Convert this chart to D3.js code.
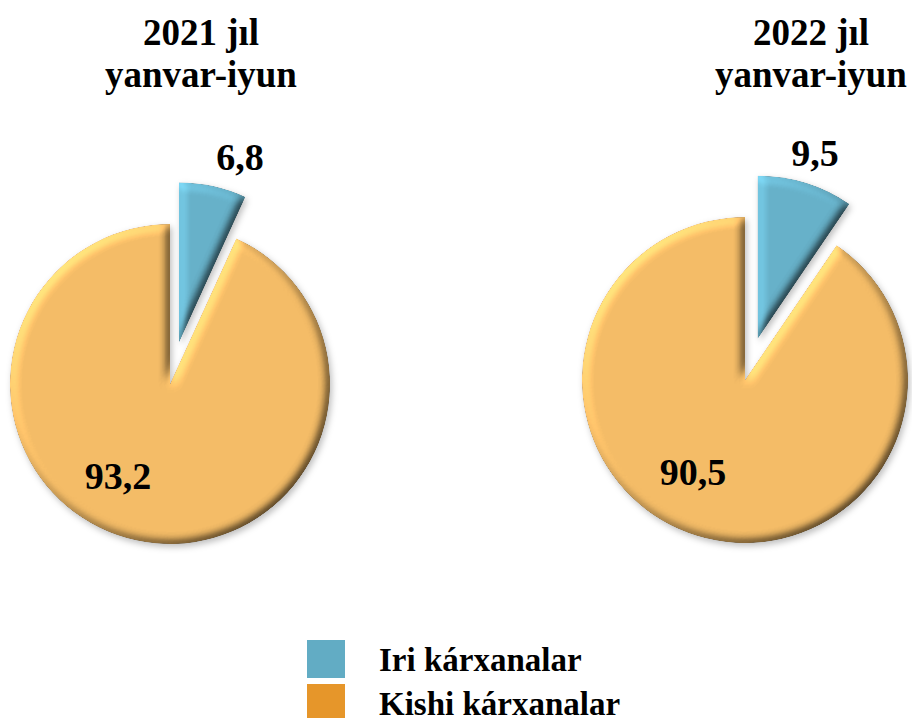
<!DOCTYPE html>
<html>

<head>
  <meta charset="utf-8">
  <title>Iri va kishi kárxanalar</title>
  <script src="https://d3js.org/d3.v7.min.js"></script>
  <style>
    body {
      margin: 0;
      background: #ffffff;
      font-family: "Liberation Serif", "Times New Roman", serif;
    }

    .title {
      font-size: 37px;
      font-weight: bold;
      text-anchor: middle;
      fill: #000;
    }

    .value-label {
      font-size: 38px;
      font-weight: bold;
      text-anchor: middle;
      fill: #000;
    }

    .legend-label {
      font-size: 33px;
      font-weight: bold;
      fill: #000;
    }
  </style>
</head>

<body>
  <svg id="chart"></svg>

  <script>
    // Data (percent shares)
    const periods = ["2021 jıl", "2022 jıl"];
    const subtitle = "yanvar-iyun";
    const categories = ["Iri kárxanalar", "Kishi kárxanalar"];
    const iriValues = [6.8, 9.5];
    const kishiValues = [93.2, 90.5];

    // Colours
    const legendColors = ["#62acc4", "#e6962a"];
    const sliceColors = ["#66b0c8", "#f3bb66"];

    const width = 912;
    const height = 718;

    // Layout of each pie (centre and radius)
    const pieLayout = [
      { cx: 170, cy: 384, r: 160, titleX: 201 },
      { cx: 745, cy: 380, r: 163, titleX: 811 },
    ];
    const explode = 0.265; // fraction of radius the small slice is pulled out
    const labelOffsets = [
      { dx: 70, dy: -227 }, // outside, above the small slice
      { dx: -52, dy: 92 },  // inside the large slice
    ];

    const svg = d3
      .select("#chart")
      .attr("width", width)
      .attr("height", height);

    // Bevel + shadow filter to mimic the 3-D look
    const defs = svg.append("defs");
    const filter = defs
      .append("filter")
      .attr("id", "bevel")
      .attr("x", "-20%")
      .attr("y", "-20%")
      .attr("width", "140%")
      .attr("height", "140%")
      .attr("color-interpolation-filters", "sRGB");
    filter
      .append("feGaussianBlur")
      .attr("in", "SourceAlpha")
      .attr("stdDeviation", 5)
      .attr("result", "blur");
    const light = filter
      .append("feDiffuseLighting")
      .attr("in", "blur")
      .attr("surfaceScale", 4)
      .attr("diffuseConstant", 0.98)
      .attr("lighting-color", "#ffffff")
      .attr("result", "light");
    light.append("feDistantLight").attr("azimuth", 225).attr("elevation", 55);
    filter
      .append("feComposite")
      .attr("in", "SourceGraphic")
      .attr("in2", "light")
      .attr("operator", "arithmetic")
      .attr("k1", 1.25)
      .attr("k2", 0)
      .attr("k3", 0)
      .attr("k4", 0)
      .attr("result", "lit");
    filter
      .append("feComposite")
      .attr("in", "lit")
      .attr("in2", "SourceAlpha")
      .attr("operator", "in")
      .attr("result", "litIn");
    filter
      .append("feGaussianBlur")
      .attr("in", "SourceAlpha")
      .attr("stdDeviation", 3)
      .attr("result", "sb");
    filter
      .append("feOffset")
      .attr("in", "sb")
      .attr("dx", 2)
      .attr("dy", 3)
      .attr("result", "so");
    filter
      .append("feFlood")
      .attr("flood-color", "#000")
      .attr("flood-opacity", 0.25)
      .attr("result", "fl");
    filter
      .append("feComposite")
      .attr("in", "fl")
      .attr("in2", "so")
      .attr("operator", "in")
      .attr("result", "shadow");
    const merge = filter.append("feMerge");
    merge.append("feMergeNode").attr("in", "shadow");
    merge.append("feMergeNode").attr("in", "litIn");

    const pie = d3
      .pie()
      .sort(null)
      .value((d) => d.value);

    periods.forEach((period, i) => {
      const layout = pieLayout[i];
      const data = [
        { category: categories[0], value: iriValues[i] },
        { category: categories[1], value: kishiValues[i] },
      ];
      const arcs = pie(data);
      const arc = d3.arc().innerRadius(0).outerRadius(layout.r);

      // Titles
      svg
        .append("text")
        .attr("class", "title")
        .attr("x", layout.titleX)
        .attr("y", 45)
        .text(period);
      svg
        .append("text")
        .attr("class", "title")
        .attr("x", layout.titleX)
        .attr("y", 87)
        .text(subtitle);

      const g = svg
        .append("g")
        .attr("transform", `translate(${layout.cx},${layout.cy})`);

      // Slices; the small one is pulled out along its mid angle
      g.selectAll("path")
        .data(arcs)
        .join("path")
        .attr("d", arc)
        .attr("fill", (d, j) => sliceColors[j])
        .attr("filter", "url(#bevel)")
        .attr("transform", (d, j) => {
          if (j !== 0) return null;
          const mid = (d.startAngle + d.endAngle) / 2;
          const e = explode * layout.r;
          return `translate(${Math.sin(mid) * e},${-Math.cos(mid) * e})`;
        });

      // Value labels
      g.selectAll("text")
        .data(arcs)
        .join("text")
        .attr("class", "value-label")
        .attr("x", (d, j) => labelOffsets[j].dx)
        .attr("y", (d, j) => labelOffsets[j].dy)
        .attr("dy", "0.35em")
        .text((d) => d3.format(".1f")(d.data.value).replace(".", ","));
    });

    // Legend
    const legend = svg
      .append("g")
      .attr("transform", "translate(307,640)");
    const items = legend
      .selectAll("g")
      .data(categories)
      .join("g")
      .attr("transform", (d, i) => `translate(0,${i * 44})`);
    items
      .append("rect")
      .attr("width", 38)
      .attr("height", 38)
      .attr("fill", (d, i) => legendColors[i]);
    items
      .append("text")
      .attr("class", "legend-label")
      .attr("x", 72)
      .attr("y", 31)
      .text((d) => d);
  </script>
</body>

</html>
